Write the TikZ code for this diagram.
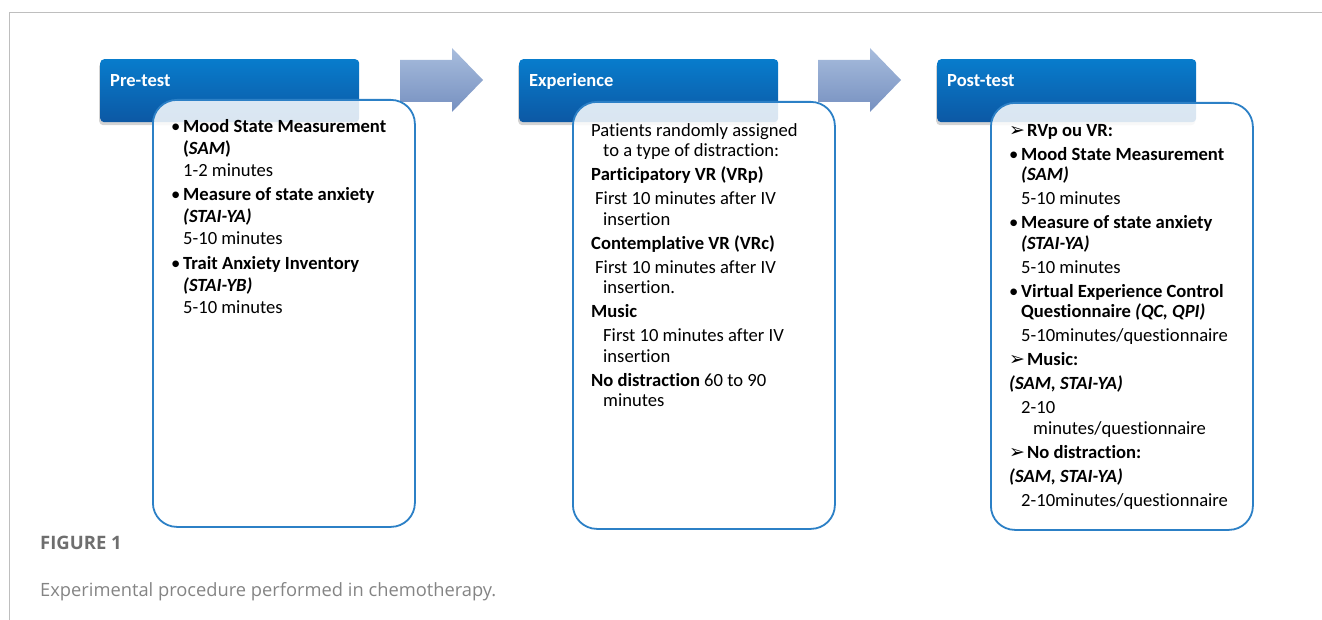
\documentclass[tikz,border=0pt]{standalone}
\usepackage{fontspec}
\setmainfont[Ligatures={NoCommon}]{Carlito}
\newfontfamily\capfont{Open Sans}
\newfontfamily\symfont{DejaVu Sans}
\usetikzlibrary{shadows}

\definecolor{hdTop}{RGB}{8, 124, 204}
\definecolor{hdBot}{RGB}{12, 88, 164}
\definecolor{arTop}{RGB}{168, 189, 221}
\definecolor{arBot}{RGB}{118, 144, 192}
\definecolor{bxBlue}{RGB}{44, 128, 198}
\definecolor{frameGray}{RGB}{190, 190, 190}
\definecolor{capGray}{RGB}{110, 110, 110}

\newcommand{\bul}[1][12pt]{\makebox[#1][l]{\textbullet}}
\newcommand{\chev}{\makebox[18pt][l]{\symfont\fontsize{19}{19}\selectfont ➢}}

\tikzset{
  head/.style={rectangle, rounded corners=4pt, minimum width=259pt, minimum height=63pt,
    inner sep=0pt, anchor=north west, top color=hdTop, bottom color=hdBot,
    drop shadow={opacity=0.35, shadow xshift=-1pt, shadow yshift=-3pt}},
  headtxt/.style={anchor=base west, inner sep=0pt, text=white, font=\fontsize{18.5}{18.5}\selectfont\bfseries},
  panel/.style={rectangle, rounded corners=24pt, draw=bxBlue, line width=1.8pt, fill=white,
    fill opacity=0.85, minimum width=262pt, minimum height=427pt, inner sep=0pt, anchor=north west},
  boxtxt/.style={anchor=north west, inner sep=0pt, align=left, font=\fontsize{18.6}{20.5}\selectfont},
}

\begin{document}
\begin{tikzpicture}[x=1pt, y=-1pt, line join=round]
  \useasboundingbox (0,0) rectangle (1322,620);

  % page frame
  \draw[frameGray, line width=1pt] (9.5,620) -- (9.5,12.5) -- (1322,12.5);

  % block arrows between the stages
  \foreach \ax in {400, 818} {
    \shade[top color=arTop, bottom color=arBot]
      (\ax,60) -- (\ax+52,60) -- (\ax+52,48) -- (\ax+83,80) -- (\ax+52,112)
      -- (\ax+52,102) -- (\ax,102) -- cycle;
  }

  % stage headers and panels
  \foreach \hx/\px/\py/\nm/\ttl in {100/152/99/pre/Pre-test, 519/572/101/exp/Experience, 937/990/102/post/Post-test} {
    \node[head] (\nm) at (\hx,59) {};
    \node[headtxt] (\nm T) at ([xshift=10pt, yshift=-28pt]\nm.north west) {\ttl};
    \node[panel] (\nm Box) at (\px,\py) {};
  }

  \node[boxtxt, font=\fontsize{18.6}{22}\selectfont] (preTxt) at (171,119) {%
    \bul\textbf{Mood State Measurement}\\
    \hspace*{12pt}\textbf{(\textit{SAM})}\\
    \hspace*{12pt}1-2 minutes\\[2.5pt]
    \bul\textbf{Measure of state anxiety}\\
    \hspace*{12pt}\textbf{\textit{(STAI-YA)}}\\
    \hspace*{12pt}5-10 minutes\\[2.5pt]
    \bul\textbf{Trait Anxiety Inventory}\\
    \hspace*{12pt}\textbf{\textit{(STAI-YB)}}\\
    \hspace*{12pt}5-10 minutes};

  \node[boxtxt] (expTxt) at (591,123) {%
    Patients randomly assigned\\
    \hspace*{12pt}to a type of distraction:\\[3.5pt]
    \textbf{Participatory VR (VRp)}\\[3.5pt]
    \hspace*{4pt}First 10 minutes after IV\\
    \hspace*{12pt}insertion\\[3.5pt]
    \textbf{Contemplative VR (VRc)}\\[3.5pt]
    \hspace*{4pt}First 10 minutes after IV\\
    \hspace*{12pt}insertion.\\[3.5pt]
    \textbf{Music}\\[3.5pt]
    \hspace*{12pt}First 10 minutes after IV\\
    \hspace*{12pt}insertion\\[3.5pt]
    \textbf{No distraction} 60 to 90\\
    \hspace*{12pt}minutes};

  \node[boxtxt] (postTxt) at (1009,124) {%
    \chev\textbf{RVp ou VR:}\\[3.5pt]
    \bul\textbf{Mood State Measurement}\\
    \hspace*{12pt}\textbf{\textit{(SAM)}}\\[3.5pt]
    \hspace*{12pt}5-10 minutes\\[3.5pt]
    \bul\textbf{Measure of state anxiety}\\
    \hspace*{12pt}\textbf{\textit{(STAI-YA)}}\\[3.5pt]
    \hspace*{12pt}5-10 minutes\\[3.5pt]
    \bul\textbf{Virtual Experience Control}\\
    \hspace*{12pt}\textbf{Questionnaire \textit{(QC, QPI)}}\\[3.5pt]
    \hspace*{12pt}5-10minutes/questionnaire\\[3.5pt]
    \chev\textbf{Music:}\\[3.5pt]
    \textbf{\textit{(SAM, STAI-YA)}}\\[3.5pt]
    \hspace*{12pt}2-10\\
    \hspace*{24pt}minutes/questionnaire\\[3.5pt]
    \chev\textbf{No distraction:}\\[3.5pt]
    \textbf{\textit{(SAM, STAI-YA)}}\\[3.5pt]
    \hspace*{12pt}2-10minutes/questionnaire};

  % caption
  \node[anchor=base west, inner sep=0pt, text=capGray, font=\capfont\fontsize{18.5}{18.5}\selectfont\bfseries] (figNo) at (40,549) {FIGURE 1};
  \node[anchor=base west, inner sep=0pt, text=capGray!85, font=\capfont\fontsize{18.3}{18.3}\selectfont] (figCap) at (40,596) {Experimental procedure performed in chemotherapy.};
\end{tikzpicture}
\end{document}
